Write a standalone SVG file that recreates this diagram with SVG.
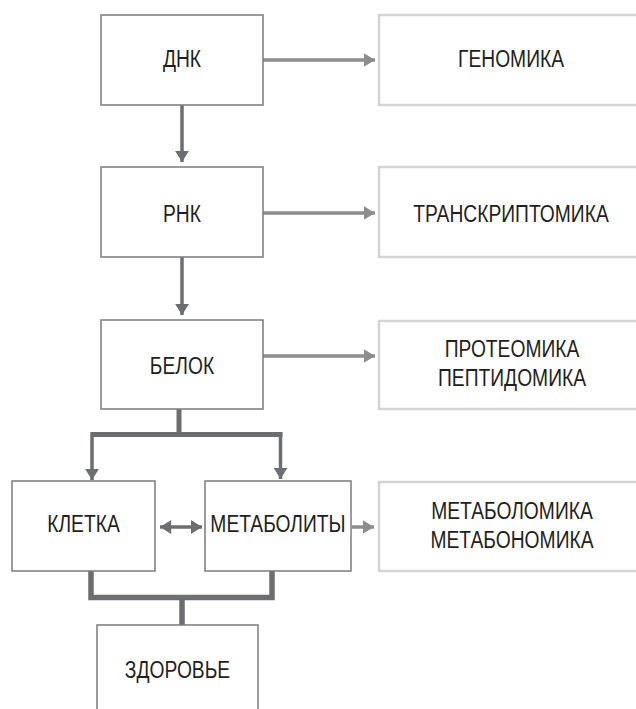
<svg xmlns="http://www.w3.org/2000/svg" width="636" height="709" viewBox="0 0 636 709">
<style>
.box{fill:#fff;stroke:#7b7b7d;stroke-width:1.5}
.rbox{fill:#fff;stroke:#d4d4d6;stroke-width:2.5}
text{font-family:"Liberation Sans",Arial,sans-serif;font-size:23.5px;fill:#231f20;text-anchor:middle}
.dk{stroke:#6d6e71;fill:none}
.lt{stroke:#8c8d90;fill:none;stroke-width:3.5}
</style>
<defs>
<marker id="ad" markerWidth="4" markerHeight="4" refX="3.2" refY="2" orient="auto" markerUnits="strokeWidth"><path d="M0,0 L3.2,2 L0,4 Z" fill="#6d6e71"/></marker>
<marker id="al" markerWidth="4" markerHeight="4" refX="3.2" refY="2" orient="auto" markerUnits="strokeWidth"><path d="M0,0 L3.2,2 L0,4 Z" fill="#8c8d90"/></marker>
<marker id="as" markerWidth="4" markerHeight="4" refX="0" refY="2" orient="auto" markerUnits="strokeWidth"><path d="M3.2,0 L0,2 L3.2,4 Z" fill="#6d6e71"/></marker>
</defs>
<g id="connectors">
<line class="lt" x1="263" y1="60" x2="375" y2="60" marker-end="url(#al)"/>
<line class="lt" x1="263" y1="213" x2="375" y2="213" marker-end="url(#al)"/>
<line class="lt" x1="263" y1="356" x2="375" y2="356" marker-end="url(#al)"/>
<line class="lt" x1="352" y1="527" x2="374" y2="527" marker-end="url(#al)"/>
<line class="dk" stroke-width="3.5" x1="182" y1="105" x2="182" y2="162" marker-end="url(#ad)"/>
<line class="dk" stroke-width="3.5" x1="182" y1="257" x2="182" y2="315" marker-end="url(#ad)"/>
<line class="dk" stroke-width="3.5" x1="160" y1="527" x2="202" y2="527" marker-start="url(#as)" marker-end="url(#ad)"/>
<path class="dk" stroke-width="5" d="M179,409 V434.5 M92,434.5 H282.5"/>
<line class="dk" stroke-width="3.5" x1="92" y1="432" x2="92" y2="480" marker-end="url(#ad)"/>
<line class="dk" stroke-width="3.5" x1="280.5" y1="432" x2="280.5" y2="479" marker-end="url(#ad)"/>
<path class="dk" stroke-width="5.5" d="M91,571 V597.5 H272 V571 M182,597.5 V625"/>
</g>
<g id="dnk"><rect class="box" x="101" y="15" width="162" height="90"/><text transform="translate(182,67) scale(0.82,1)">ДНК</text></g>
<g id="genomika"><rect class="rbox" x="379" y="15" width="264" height="90"/><text transform="translate(511,67) scale(0.82,1)">ГЕНОМИКА</text></g>
<g id="rnk"><rect class="box" x="101" y="167" width="162" height="90"/><text transform="translate(182,222) scale(0.82,1)">РНК</text></g>
<g id="transcriptomika"><rect class="rbox" x="379" y="167" width="264" height="90"/><text transform="translate(511,222) scale(0.82,1)">ТРАНСКРИПТОМИКА</text></g>
<g id="belok"><rect class="box" x="101" y="320" width="162" height="89"/><text transform="translate(182,374) scale(0.82,1)">БЕЛОК</text></g>
<g id="proteomika"><rect class="rbox" x="379" y="321" width="264" height="88"/><text transform="translate(512,357) scale(0.82,1)">ПРОТЕОМИКА</text><text transform="translate(512,386) scale(0.82,1)">ПЕПТИДОМИКА</text></g>
<g id="kletka"><rect class="box" x="12" y="481" width="143" height="90"/><text transform="translate(83.5,532) scale(0.82,1)">КЛЕТКА</text></g>
<g id="metabolity"><rect class="box" x="205" y="481" width="146" height="90"/><text transform="translate(278,532) scale(0.82,1)">МЕТАБОЛИТЫ</text></g>
<g id="metabolomika"><rect class="rbox" x="379" y="482" width="264" height="89"/><text transform="translate(512,519) scale(0.82,1)">МЕТАБОЛОМИКА</text><text transform="translate(512,548) scale(0.82,1)">МЕТАБОНОМИКА</text></g>
<g id="zdorovie"><rect class="box" x="97" y="625" width="161" height="100"/><text transform="translate(177.5,678) scale(0.82,1)">ЗДОРОВЬЕ</text></g>
</svg>
